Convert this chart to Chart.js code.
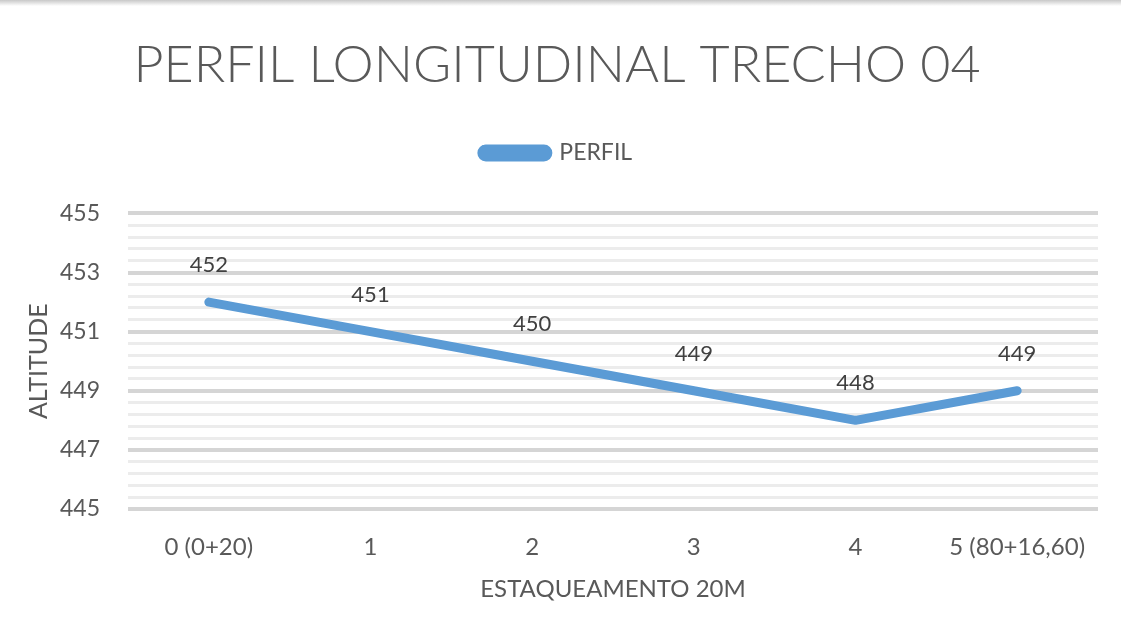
<!DOCTYPE html>
<html>
<head>
<meta charset="utf-8">
<script src="https://cdn.jsdelivr.net/npm/chart.js@4/dist/chart.umd.min.js"></script>
<style>
  html, body { margin: 0; padding: 0; background: #fff; }
  #wrap { position: relative; width: 1121px; height: 630px; }
  #topline { position: absolute; left: 0; top: 0; width: 1121px; height: 6px;
    background: linear-gradient(#c8c8c8, #ffffff); }
</style>
</head>
<body>
<div id="wrap">
  <canvas id="chart" width="1121" height="630"></canvas>
  <div id="topline"></div>
</div>
<script>
// categorias (estacas) e altitudes
var estacas = ['0 (0+20)', '1', '2', '3', '4', '5 (80+16,60)'];
var perfil = [452, 451, 450, 449, 448, 449];
var yMin = 445, yMax = 455, yMajor = 2, yMinor = 0.4;

var fonte = 'Lato, "Open Sans", sans-serif';

var isMajor = v => {
    var k = (v - yMin) / yMajor;
    return Math.abs(k - Math.round(k)) < 1e-6;
};

// rótulos de valor acima de cada ponto
var valueLabels = {
    id: 'valueLabels',
    afterDatasetsDraw(chart) {
        var ctx = chart.ctx;
        var meta = chart.getDatasetMeta(0);
        ctx.save();
        ctx.font = '22px ' + fonte;
        ctx.fillStyle = '#404040';
        ctx.textAlign = 'center';
        ctx.textBaseline = 'middle';
        meta.data.forEach((pt, i) => {
            ctx.fillText(perfil[i], pt.x, pt.y - 37);
        });
        ctx.restore();
    }
};

// espaço fixo entre a legenda e a área do gráfico
var legendSpace = {
    id: 'legendSpace',
    beforeLayout(chart) {
        var leg = chart.legend;
        if (!leg || leg._fixed) return;
        var fit = leg.fit;
        leg.fit = function () {
            fit.call(leg);
            leg.height = 82;
        };
        leg._fixed = true;
    }
};

var config = {
    type: 'line',
    data: {
        labels: estacas,
        datasets: [{
            label: 'PERFIL',
            data: perfil,
            borderColor: '#5b9bd5',
            backgroundColor: '#5b9bd5',
            borderWidth: 9,
            borderCapStyle: 'round',
            borderJoinStyle: 'round',
            pointRadius: 0,
            pointHoverRadius: 0,
            tension: 0,
        }]
    },
    options: {
        responsive: false,
        animation: false,
        layout: { padding: { left: 16, right: 23, top: 0, bottom: 26 } },
        plugins: {
            tooltip: { enabled: false },
            title: {
                display: true,
                text: 'PERFIL LONGITUDINAL TRECHO 04',
                color: '#595959',
                font: { family: fonte, size: 52, weight: 300 },
                padding: { top: 34, bottom: 35 },
            },
            legend: {
                display: true,
                position: 'top',
                labels: {
                    color: '#595959',
                    font: { family: fonte, size: 23 },
                    boxWidth: 66,
                    boxHeight: 8,
                    useBorderRadius: true,
                    borderRadius: 4,
                    padding: 10,
                },
            },
        },
        scales: {
            x: {
                offset: true,
                afterFit: s => { s.height = 95; },
                grid: { display: false, drawTicks: false },
                border: { display: false },
                ticks: {
                    color: '#595959',
                    font: { family: fonte, size: 24 },
                    padding: 24,
                    maxRotation: 0,
                    autoSkip: false,
                },
                title: {
                    display: true,
                    text: 'ESTAQUEAMENTO 20M',
                    color: '#595959',
                    font: { family: fonte, size: 24 },
                    padding: { top: 0, bottom: 0 },
                },
            },
            y: {
                min: yMin,
                max: yMax,
                afterFit: s => { s.width = 112; },
                grid: {
                    drawTicks: false,
                    color: c => isMajor(c.tick.value) ? '#d5d5d5' : '#ececec',
                    lineWidth: c => isMajor(c.tick.value) ? 4 : 3,
                },
                border: { display: false },
                ticks: {
                    stepSize: yMinor,
                    autoSkip: false,
                    color: '#595959',
                    font: { family: fonte, size: 23 },
                    padding: 28,
                    callback: v => isMajor(v) ? Math.round(v) : '',
                },
                title: {
                    display: true,
                    text: 'ALTITUDE',
                    color: '#595959',
                    font: { family: fonte, size: 25 },
                    padding: { top: 8, bottom: 0 },
                },
            },
        },
    },
    plugins: [valueLabels, legendSpace],
};

new Chart(document.getElementById('chart'), config);
</script>
</body>
</html>
